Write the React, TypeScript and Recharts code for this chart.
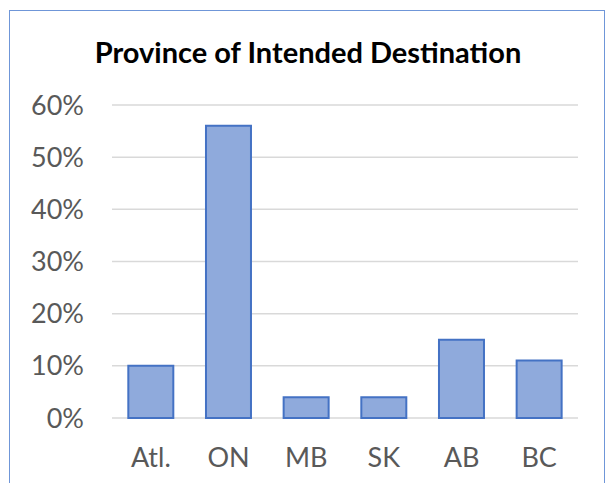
import { Bar, BarChart, CartesianGrid, XAxis, YAxis } from 'recharts';

const provinces = ['Atl.', 'ON', 'MB', 'SK', 'AB', 'BC'];
const shares = [0.1, 0.56, 0.04, 0.04, 0.15, 0.11];
const yTicks = [0, 0.1, 0.2, 0.3, 0.4, 0.5, 0.6];

const data = provinces.map((name, i) => ({ name, share: shares[i] }));

const font = 'Lato, "Open Sans", sans-serif';

export default function App() {
  return (
    <div style={{ position: 'absolute', left: 0, top: 0, width: 608, height: 483, overflow: 'hidden', background: '#fff' }}>
      <div
        style={{
          position: 'absolute',
          left: 9,
          top: 10,
          width: 594,
          height: 500,
          border: '1.5px solid #6F96D8',
        }}
      />
      <div
        style={{
          position: 'absolute',
          left: 0,
          top: 34,
          width: 616,
          textAlign: 'center',
          fontFamily: font,
          fontWeight: 700,
          fontSize: 29,
          lineHeight: '36px',
          color: '#000',
        }}
      >
        Province of Intended Destination
      </div>
      <div style={{ position: 'absolute', left: 0, top: 0 }}>
        <BarChart
          width={608}
          height={483}
          data={data}
          margin={{ top: 105, right: 30, bottom: 0, left: 0 }}
          barCategoryGap='21%'
        >
          <CartesianGrid vertical={false} stroke='#D9D9D9' strokeWidth={1.5} />
          <XAxis
            dataKey='name'
            axisLine={false}
            tickLine={false}
            tickSize={6}
            tickMargin={24}
            height={65}
            tick={{ fill: '#595959', fontSize: 27, fontFamily: font }}
          />
          <YAxis
            domain={[0, 0.6]}
            ticks={yTicks}
            width={112}
            axisLine={false}
            tickLine={false}
            tickSize={6}
            tickMargin={22}
            tickFormatter={(v: number) => `${Math.round(v * 100)}%`}
            tick={{ fill: '#595959', fontSize: 27, fontFamily: font }}
          />
          <Bar dataKey='share' fill='#8FAADC' stroke='#4472C4' strokeWidth={2} isAnimationActive={false} />
        </BarChart>
      </div>
    </div>
  );
}
